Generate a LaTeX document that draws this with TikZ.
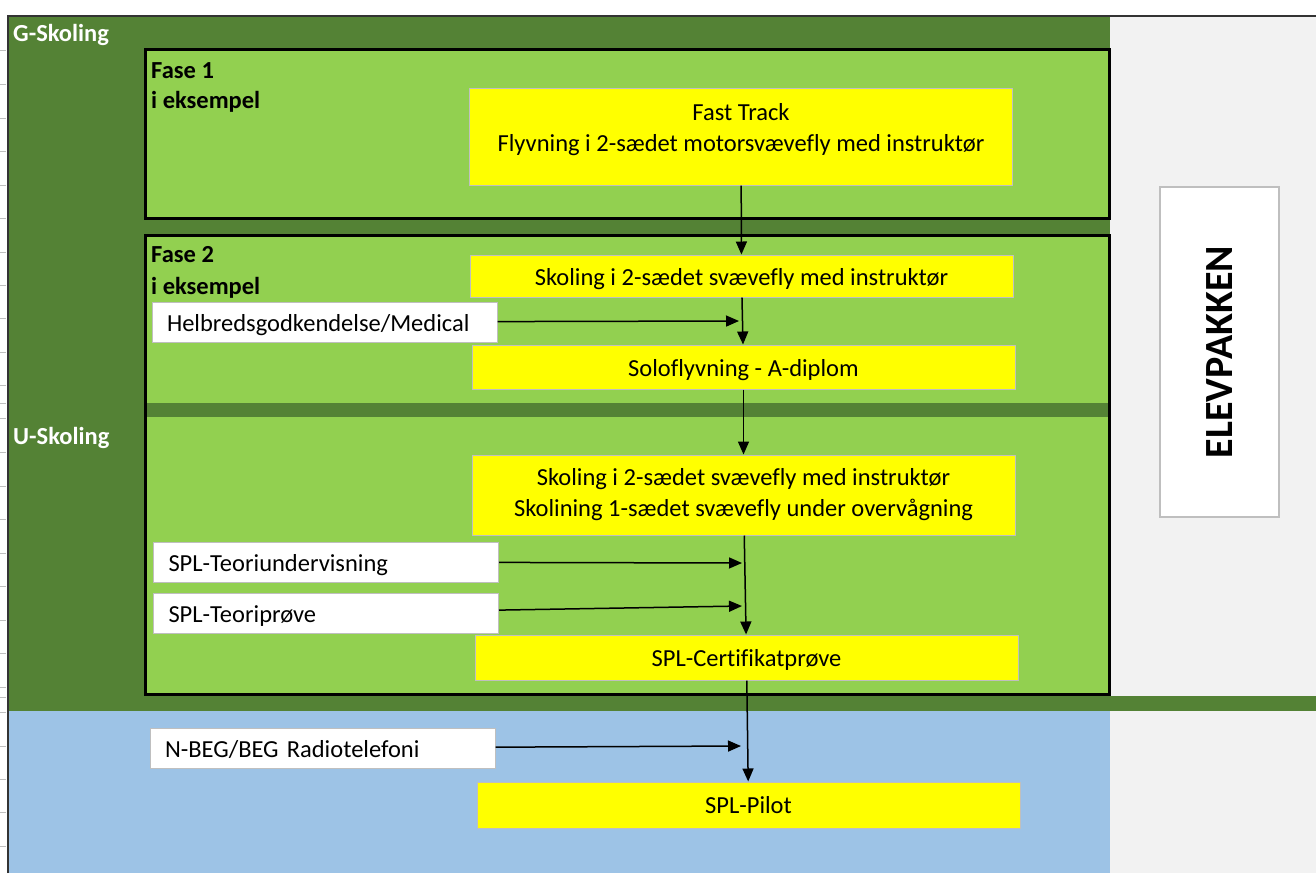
\documentclass[tikz,border=0pt]{standalone}
\usepackage{fontspec}
\setmainfont{Carlito}[Ligatures=NoCommon]
\usetikzlibrary{arrows.meta,positioning}

\definecolor{skoledark}{HTML}{548235}
\definecolor{faselight}{HTML}{92D050}
\definecolor{radioblue}{HTML}{9DC3E6}
\definecolor{sidegray}{HTML}{F2F2F2}
\definecolor{boxedge}{HTML}{BFBFBF}
\definecolor{stageyellow}{RGB}{255,255,0}

\tikzset{
  stage/.style={draw=boxedge,line width=1pt,fill=stageyellow,minimum width=543pt,align=center,font=\fontsize{24.5}{31}\selectfont},
  oneline/.style={text height=20pt,text depth=2pt},
  input/.style={draw=boxedge,line width=1pt,fill=white,minimum width=345pt,minimum height=40pt,inner xsep=15pt,text width=315pt,align=left,oneline,font=\fontsize{24.5}{28}\selectfont},
  flow/.style={line width=1.5pt,-{Triangle[length=13pt,width=11pt]}},
  fase/.style={font=\bfseries\fontsize{24.5}{28}\selectfont,anchor=west,inner sep=0pt},
}

\begin{document}
\begin{tikzpicture}[x=1pt,y=-1pt]
  \useasboundingbox (0,0) rectangle (1316,873);
  \fill[white] (0,0) rectangle (1316,873);
  \fill[sidegray] (1110,16) rectangle (1316,873);
  \fill[skoledark] (8,16) rectangle (1110,711);
  \fill[skoledark] (1110,696) rectangle (1316,711);
  \fill[radioblue] (8,711) rectangle (1110,873);
  \draw[line width=1.5pt,black!80] (8,873) -- (8,16) -- (1316,16);
  \foreach \ty in {50,84,118,151,185,218,252,285,318,352,385,403,418,452,486,519,553,586,620,653,687,697,712,746,779,812,846}
    \draw[black!25] (0,\ty) -- (6,\ty);

  %% faser
  \filldraw[fill=faselight,line width=3pt] (145.5,49.5) rectangle (1109.5,218);
  \fill[faselight] (145.5,235.5) rectangle (1109.5,694.5);
  \fill[skoledark] (147,403) rectangle (1109.5,417);
  \draw[line width=3pt] (145.5,235.5) rectangle (1109.5,694.5);

  \node[fase,text=white] (g) at (13,35) {G-Skoling};
  \node[fase,text=white] (u) at (13,438) {U-Skoling};
  \node[fase] (f1) at (151,71) {Fase 1};
  \node[fase] (f1b) at (151,102) {i eksempel};
  \node[fase] (f2) at (151,255) {Fase 2};
  \node[fase] (f2b) at (151,288) {i eksempel};

  \node[stage,minimum height=97pt] (1) at (741,136.5) {Fast Track\\Flyvning i 2-sædet motorsvævefly med instruktør\\[-12pt]\mbox{}};
  \node[stage,oneline,minimum height=42pt] (2) at (741.5,276) {Skoling i 2-sædet svævefly med instruktør};
  \node[input] (3) at (324.5,322) {Helbredsgodkendelse/Medical};
  \node[stage,oneline,minimum height=44pt] (4) at (743.5,367) {Soloflyvning - A-diplom};
  \node[stage,minimum height=80pt] (5) at (743.5,495) {Skoling i 2-sædet svævefly med instruktør\\Skolining 1-sædet svævefly under overvågning};
  \node[input] (6) at (326,562) {SPL-Teoriundervisning};
  \node[input,below=10pt of 6] (7) {SPL-Teoriprøve};
  \node[stage,oneline,minimum height=45pt] (8) at (746.5,657.5) {SPL-Certifikatprøve};
  \node[input] (9) at (322.5,748) {N-BEG/BEG Radiotelefoni};
  \node[stage,minimum height=46pt] (10) at (748.5,805) {SPL-Pilot};

  \node[draw=boxedge,line width=1.2pt,fill=white,minimum width=330pt,minimum height=119pt,rotate=90,font=\bfseries\fontsize{40}{42}\selectfont] (11) at (1219.5,352) {ELEVPAKKEN};

  \coordinate (a1) at (739,321);
  \coordinate (a2) at (742,563);
  \coordinate (a3) at (742,606);
  \coordinate (a4) at (741,746);

  \draw[flow] (1) -- (2);
  \draw[flow] (2) -- (4);
  \draw[flow] (3) -- (a1);
  \draw[flow] (4) -- (5);
  \draw[flow] (5) -- (8);
  \draw[flow] (6) -- (a2);
  \draw[flow] (7) -- (a3);
  \draw[flow] (8) -- (10);
  \draw[flow] (9) -- (a4);
\end{tikzpicture}
\end{document}
